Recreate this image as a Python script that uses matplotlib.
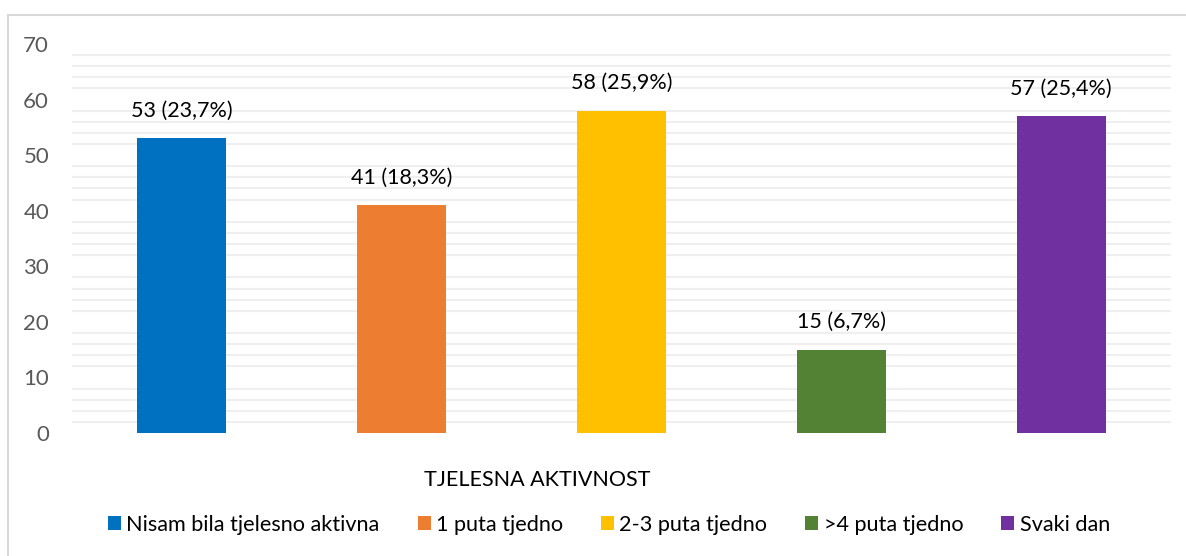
import matplotlib
matplotlib.use("Agg")
import matplotlib.pyplot as plt
from matplotlib.patches import Patch, Rectangle
from matplotlib.ticker import FixedLocator

categories = ["Nisam bila tjelesno aktivna", "1 puta tjedno", "2-3 puta tjedno",
              ">4 puta tjedno", "Svaki dan"]
counts = [53, 41, 58, 15, 57]
labels = ["53 (23,7%)", "41 (18,3%)", "58 (25,9%)", "15 (6,7%)", "57 (25,4%)"]
colors = ["#0070C0", "#ED7D31", "#FFC000", "#548235", "#7030A0"]
yticks = [0, 10, 20, 30, 40, 50, 60, 70]
xlabel = "TJELESNA AKTIVNOST"

W, H = 1186, 556
fig = plt.figure(figsize=(W / 100, H / 100), dpi=100)
plt.rcParams['font.family'] = ['Lato', 'DejaVu Sans']

# outer chart border
fig.patches.append(Rectangle((8 / W, -0.1), 1.2, 1 - 15 / H + 0.1, transform=fig.transFigure,
                             fill=False, edgecolor="#d9d9d9", linewidth=1.5, zorder=0))

ax = fig.add_axes([72 / W, 1 - 433 / H, (1171 - 72) / W, (433 - 44) / H])
x = list(range(len(counts)))
bars = ax.bar(x, counts, width=0.405, color=colors, zorder=3)
for b, lab in zip(bars, labels):
    ax.annotate(lab, (b.get_x() + b.get_width() / 2, b.get_height()),
                xytext=(0, 20), textcoords="offset points", ha="center", va="center",
                fontsize=15.5, color="#000000")

ax.set_xlim(-0.5, len(counts) - 0.5)
ax.set_ylim(0, 70)
ax.set_yticks(yticks)
minor = [v for v in range(2, 70, 2) if v % 10 != 0]
ax.yaxis.set_minor_locator(FixedLocator(minor))
ax.grid(which="minor", axis="y", color="#efefef", linewidth=1.5, zorder=0)
ax.tick_params(axis="y", which="both", length=0, pad=16.5, labelsize=16, labelcolor="#595959")
ax.set_xticks([])
for s in ax.spines.values():
    s.set_visible(False)

fig.text(537 / W, 1 - 480 / H, xlabel, ha="center", va="center", fontsize=15.5, color="#000000")

handles = [Patch(facecolor=c, edgecolor="none") for c in colors]
fig.legend(handles, categories, loc="center", bbox_to_anchor=(609 / W, 1 - 525 / H), ncol=5,
           frameon=False, fontsize=15.6, handlelength=0.6, handleheight=0.6,
           handletextpad=0.25, columnspacing=1.75, borderaxespad=0, borderpad=0)

fig.savefig("out.png", dpi=100)
